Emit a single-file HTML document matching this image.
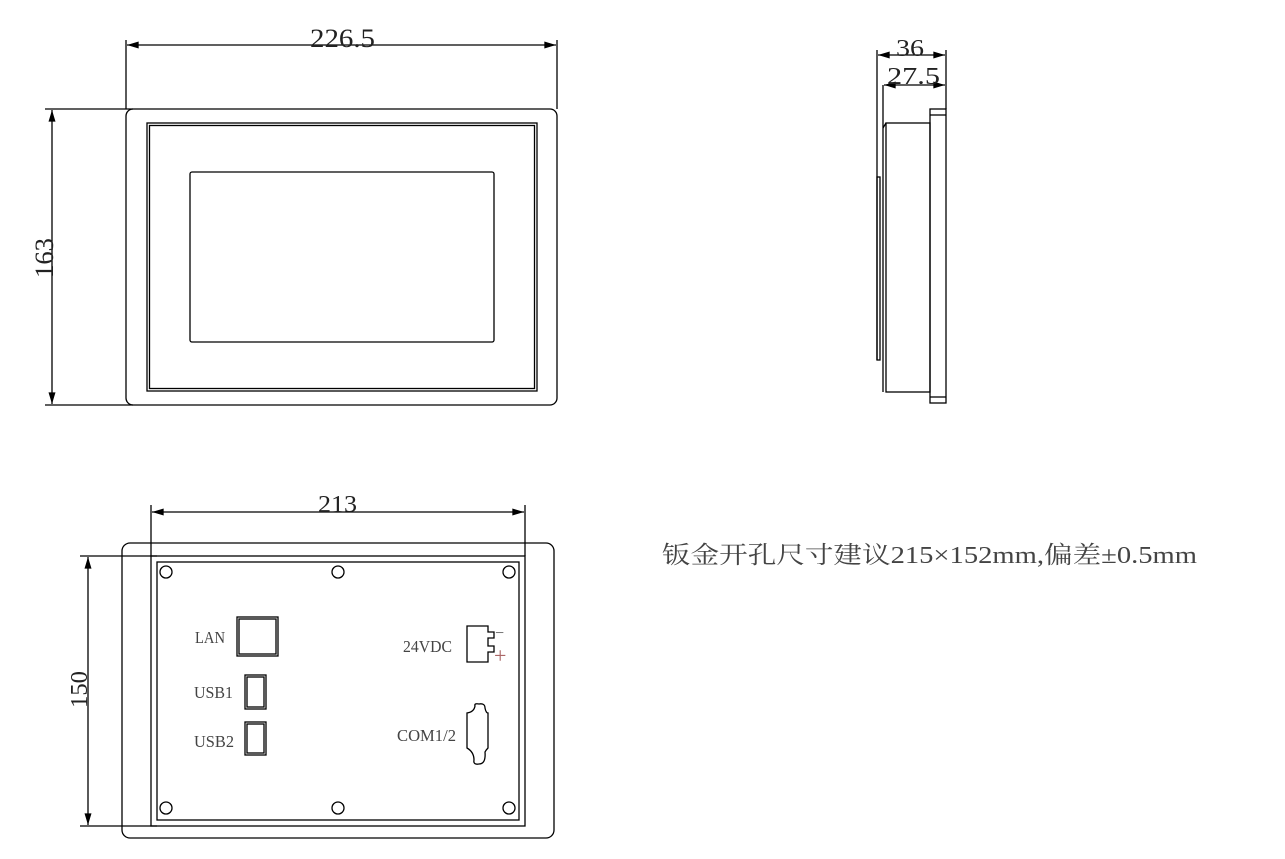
<!DOCTYPE html>
<html><head><meta charset="utf-8"><style>body{margin:0;background:#fff}svg{display:block}</style></head><body>
<svg width="1285" height="859" xmlns="http://www.w3.org/2000/svg">
<defs><marker id="a" viewBox="0 0 10 6" refX="10" refY="3" markerWidth="22" markerHeight="7" markerUnits="userSpaceOnUse" orient="auto-start-reverse"><path d="M0,0L10,3L0,6z" fill="#000"/></marker></defs>
<g fill="none" stroke="#000" stroke-width="1.3">
<line x1="126" y1="40" x2="126" y2="109"/><line x1="557" y1="40" x2="557" y2="109"/>
<line x1="127" y1="45" x2="556" y2="45" marker-start="url(#a)" marker-end="url(#a)"/>
<line x1="45" y1="109" x2="133" y2="109"/><line x1="45" y1="405" x2="133" y2="405"/>
<line x1="52" y1="110" x2="52" y2="404" marker-start="url(#a)" marker-end="url(#a)"/>
<rect x="126" y="109" width="431" height="296" rx="7"/>
<rect x="147" y="123" width="390" height="268"/><rect x="149.5" y="125.5" width="385" height="263"/>
<rect x="190" y="172" width="304" height="170" rx="2"/>
<line x1="877" y1="50" x2="877" y2="360"/><line x1="946" y1="50" x2="946" y2="109"/>
<line x1="878" y1="55" x2="945" y2="55" marker-start="url(#a)" marker-end="url(#a)"/>
<line x1="884" y1="85" x2="945" y2="85" marker-start="url(#a)" marker-end="url(#a)"/>
<line x1="883" y1="85" x2="883" y2="392"/>
<rect x="877" y="177" width="3" height="183"/>
<rect x="886" y="123" width="44" height="269"/><line x1="883" y1="128" x2="886" y2="123"/>
<rect x="930" y="109" width="16" height="294"/>
<line x1="930" y1="115" x2="946" y2="115"/><line x1="930" y1="397" x2="946" y2="397"/>
<line x1="151" y1="505" x2="151" y2="556"/><line x1="525" y1="505" x2="525" y2="556"/>
<line x1="152" y1="512" x2="524" y2="512" marker-start="url(#a)" marker-end="url(#a)"/>
<line x1="80" y1="556" x2="157" y2="556"/><line x1="80" y1="826" x2="157" y2="826"/>
<line x1="88" y1="557" x2="88" y2="825" marker-start="url(#a)" marker-end="url(#a)"/>
<rect x="122" y="543" width="432" height="295" rx="8"/>
<rect x="151" y="556" width="374" height="270"/><rect x="157" y="562" width="362" height="258"/>
<circle cx="166" cy="572" r="6"/><circle cx="338" cy="572" r="6"/><circle cx="509" cy="572" r="6"/>
<circle cx="166" cy="808" r="6"/><circle cx="338" cy="808" r="6"/><circle cx="509" cy="808" r="6"/>
<rect x="237" y="617" width="41" height="39"/><rect x="239" y="619" width="37" height="35"/>
<rect x="245" y="675" width="21" height="34"/><rect x="247" y="677" width="17" height="30"/>
<rect x="245" y="722" width="21" height="33"/><rect x="247" y="724" width="17" height="29"/>
<path d="M467,626H488V632H494V638H488V646H494V652H488V662H467Z"/>
<path d="M475,706Q474,703 479,704Q485,703 485,708Q486,713 488,713V748Q486,750 485,752Q486,764 479,764Q473,765 474,760Q474,752 467,748V713Q474,712 475,706Z"/>
</g>
<g font-family="Liberation Serif, 'Noto Serif CJK SC', serif" fill="#222" lengthAdjust="spacingAndGlyphs">
<text x="310" y="47" font-size="26" textLength="65" lengthAdjust="spacingAndGlyphs">226.5</text>
<text x="0" y="0" font-size="26" textLength="40" lengthAdjust="spacingAndGlyphs" transform="translate(53,278) rotate(-90)">163</text>
<text x="896" y="56" font-size="24" textLength="28" lengthAdjust="spacingAndGlyphs">36</text>
<text x="887" y="84" font-size="24" textLength="53" lengthAdjust="spacingAndGlyphs">27.5</text>
<text x="318" y="512" font-size="24" textLength="39" lengthAdjust="spacingAndGlyphs">213</text>
<text x="0" y="0" font-size="24" textLength="37" lengthAdjust="spacingAndGlyphs" transform="translate(87,708) rotate(-90)">150</text>
<text x="195" y="643" font-size="17" fill="#444" textLength="30" lengthAdjust="spacingAndGlyphs">LAN</text>
<text x="194" y="698" font-size="17" fill="#444" textLength="39" lengthAdjust="spacingAndGlyphs">USB1</text>
<text x="194" y="747" font-size="17" fill="#444" textLength="40" lengthAdjust="spacingAndGlyphs">USB2</text>
<text x="403" y="652" font-size="17" fill="#444" textLength="49" lengthAdjust="spacingAndGlyphs">24VDC</text>
<text x="397" y="741" font-size="17" fill="#444" textLength="59" lengthAdjust="spacingAndGlyphs">COM1/2</text>
<text x="495" y="638" font-size="16" fill="#555">−</text>
<text x="494" y="663" font-size="22" fill="#a66">+</text>
<text x="662" y="563" font-size="24" fill="#444" textLength="535" lengthAdjust="spacingAndGlyphs">钣金开孔尺寸建议215×152mm,偏差±0.5mm</text>
</g>
</svg>
</body></html>
